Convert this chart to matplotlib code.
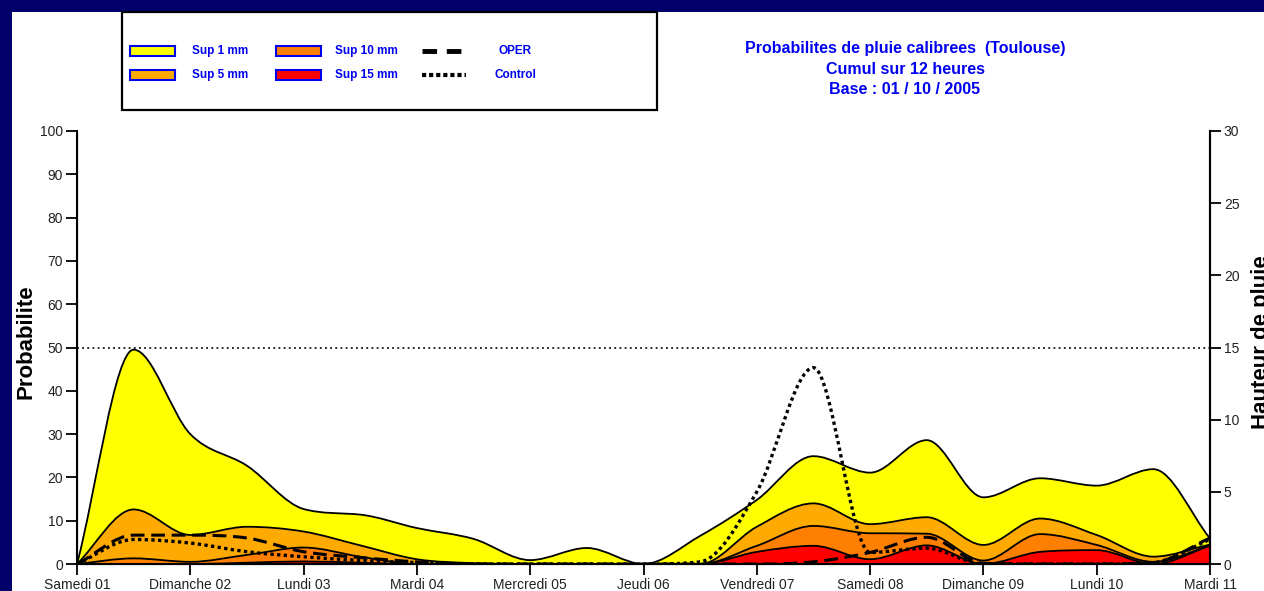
import numpy as np
import matplotlib
matplotlib.use('Agg')
import matplotlib.pyplot as plt
from matplotlib.path import Path
from matplotlib.patches import PathPatch, Rectangle
from matplotlib.lines import Line2D

plt.rcParams['font.family'] = ['Liberation Sans', 'DejaVu Sans']

# ---------------- data (12-hour steps, days since Samedi 01) ----------------
days = np.arange(21) * 0.5
day_ticks = list(range(11))
day_labels = ['Samedi 01', 'Dimanche 02', 'Lundi 03', 'Mardi 04', 'Mercredi 05',
              'Jeudi 06', 'Vendredi 07', 'Samedi 08', 'Dimanche 09', 'Lundi 10',
              'Mardi 11']

# probabilities (%)
sup1 = [0, 49.5, 30, 22.7, 12.7, 11.4, 8.3, 5.8, 0.9, 3.7, 0,
        6.5, 14.8, 24.9, 21.1, 28.6, 15.4, 19.8, 18.1, 21.9, 5.9]
sup5 = [0, 12.6, 6.7, 8.6, 7.5, 4.3, 1.1, 0.2, 0, 0, 0,
        0, 8.6, 14.0, 9.2, 10.8, 4.4, 10.5, 6.7, 1.7, 4.5]
sup10 = [0, 1.3, 0.5, 2.1, 3.8, 1.7, 0, 0, 0, 0, 0,
         0, 4.2, 8.8, 7.1, 7.0, 0.8, 6.9, 4.4, 0.5, 4.3]
sup15 = [0, 0, 0, 0.3, 0.6, 0.3, 0, 0, 0, 0, 0,
         0, 2.8, 4.2, 1.1, 4.3, 0, 2.8, 3.2, 0, 4.2]

# rain height (mm)
oper = [0, 2.0, 2.0, 1.8, 0.85, 0.45, 0.15, 0, 0, 0, 0,
        0, 0, 0.15, 0.8, 1.85, 0.05, 0, 0, 0.1, 1.8]
control = [0, 1.7, 1.45, 0.85, 0.5, 0.25, 0.1, 0, 0, 0, 0,
           0.15, 5.0, 13.6, 0.8, 1.1, 0, 0, 0, 0.1, 1.7]

prob_labels = ['Sup 1 mm', 'Sup 5 mm', 'Sup 10 mm', 'Sup 15 mm']
line_labels = ['OPER', 'Control']
title_lines = ['Probabilites de pluie calibrees  (Toulouse)',
               'Cumul sur 12 heures', 'Base : 01 / 10 / 2005']

# ---------------- styles ----------------
NAVY = '#02006b'
BLUE = '#0000f0'
fill_colors = ['#ffff00', '#ffaa00', '#ff8000', '#ff0000']
W, H = 1264, 591


def fx(px):
    return px / W


def fy(py):
    return 1 - py / H


def smooth_segments(x, y):
    """Monotone cubic (Fritsch-Carlson) curve as Bezier path segments."""
    x = np.asarray(x, float)
    y = np.asarray(y, float)
    n = len(x)
    h = np.diff(x)
    d = np.diff(y) / h
    m = np.zeros(n)
    m[0], m[-1] = d[0], d[-1]
    for k in range(1, n - 1):
        if d[k - 1] * d[k] > 0:
            m[k] = (d[k - 1] + d[k]) / 2
    for k in range(n - 1):
        if d[k] == 0:
            m[k] = m[k + 1] = 0
        else:
            a, b = m[k] / d[k], m[k + 1] / d[k]
            s = a * a + b * b
            if s > 9:
                t = 3 / np.sqrt(s)
                m[k], m[k + 1] = t * a * d[k], t * b * d[k]
    verts, codes = [], []
    for k in range(n - 1):
        verts += [(x[k] + h[k] / 3, y[k] + m[k] * h[k] / 3),
                  (x[k + 1] - h[k] / 3, y[k + 1] - m[k + 1] * h[k] / 3),
                  (x[k + 1], y[k + 1])]
        codes += [Path.CURVE4] * 3
    return verts, codes


def area_patch(x, y, color):
    v, c = smooth_segments(x, y)
    verts = [(x[0], 0), (x[0], y[0])] + v + [(x[-1], 0), (x[0], 0)]
    codes = [Path.MOVETO, Path.LINETO] + c + [Path.LINETO, Path.CLOSEPOLY]
    return PathPatch(Path(verts, codes), facecolor=color, edgecolor='black',
                     lw=1.3, joinstyle='round')


def line_patch(x, y, ls, lw):
    v, c = smooth_segments(x, y)
    verts = [(x[0], y[0])] + v
    codes = [Path.MOVETO] + c
    return PathPatch(Path(verts, codes), fill=False, edgecolor='black',
                     lw=lw, linestyle=ls)


fig = plt.figure(figsize=(W / 100, H / 100), dpi=100, facecolor=NAVY)
fig.add_artist(Rectangle((fx(12), 0), 1, fy(12), transform=fig.transFigure,
                         facecolor='white', edgecolor='none', zorder=-10))

ax = fig.add_axes([fx(77), fy(564), fx(1210) - fx(77), fy(131) - fy(564)])
ax.set_facecolor('none')
ax.set_xlim(0, 10)
ax.set_ylim(0, 100)

for series, col in zip([sup1, sup5, sup10, sup15], fill_colors):
    ax.add_patch(area_patch(days, series, col))

ax.axhline(50, color='black', lw=1.2, ls=(0, (1.1, 2.0)), zorder=0.5)

ax.set_xticks(day_ticks, day_labels)
ax.set_yticks(range(0, 101, 10))
ax.spines['top'].set_visible(False)
for s in ['left', 'bottom', 'right']:
    ax.spines[s].set_linewidth(1.5)
ax.tick_params(axis='both', direction='out', length=8, width=1.3,
               labelsize=10, labelcolor='#222222', pad=2)
ax.set_ylabel('Probabilite', fontsize=16, fontweight='bold', va='center')
ax.yaxis.set_label_coords((26 - 77) / 1133, (564 - 342) / 433)

ax2 = ax.twinx()
ax2.set_ylim(0, 30)
ax2.set_yticks(range(0, 31, 5))
ax2.spines['top'].set_visible(False)
ax2.spines['right'].set_linewidth(1.5)
ax2.tick_params(axis='y', direction='out', length=8, width=1.3,
                labelsize=10, labelcolor='#222222', pad=2)
ax2.add_patch(line_patch(days, oper, (0, (4.5, 2.2)), 2.2))
ax2.add_patch(line_patch(days, control, (0, (1, 1)), 2.4))
ax2.set_ylabel('Hauteur de pluie', fontsize=16, fontweight='bold',
               va='center', rotation=90)
ax2.yaxis.set_label_coords((1261 - 77) / 1133, (564 - 342) / 433)

# ---------------- legend box ----------------
fig.add_artist(Rectangle((fx(122), fy(110)), fx(657) - fx(122), fy(12) - fy(110),
                         transform=fig.transFigure, fill=False,
                         edgecolor='black', lw=1.6, zorder=5))
rows_y = [51, 75]
sw_x = [130, 276]
txt_x = [192, 335]
for i, (lab, col) in enumerate(zip(prob_labels, fill_colors)):
    c, r = divmod(i, 2)
    fig.add_artist(Rectangle((fx(sw_x[c]), fy(rows_y[r] + 5)), fx(45), fy(0) - fy(10),
                             transform=fig.transFigure, facecolor=col,
                             edgecolor=BLUE, lw=1.5, zorder=6))
    fig.text(fx(txt_x[c]), fy(rows_y[r]), lab, color=BLUE, fontsize=8.5,
             fontweight='bold', ha='left', va='center')

line_styles = [((0, (3, 2)), 3.5), ((0, (1, 0.7)), 3.0)]
for r, (lab, (ls, lw)) in enumerate(zip(line_labels, line_styles)):
    fig.add_artist(Line2D([fx(422), fx(466)], [fy(rows_y[r])] * 2,
                          transform=fig.transFigure, color='black',
                          lw=lw, ls=ls, zorder=6))
    fig.text(fx(515), fy(rows_y[r]), lab, color=BLUE, fontsize=8.5,
             fontweight='bold', ha='center', va='center')

# ---------------- title ----------------
for py, line in zip([49, 69, 89], title_lines):
    fig.text(fx(905), fy(py), line, color=BLUE, fontsize=11.5,
             fontweight='bold', ha='center', va='center')

fig.savefig('out.png', dpi=100, facecolor=fig.get_facecolor())
